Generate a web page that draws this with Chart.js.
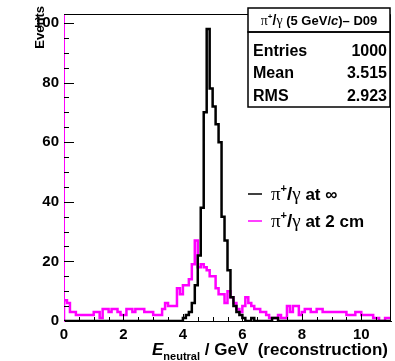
<!DOCTYPE html>
<html><head><meta charset="utf-8">
<script src="https://cdn.jsdelivr.net/npm/chart.js@4.4.1/dist/chart.umd.min.js"></script>
<style>html,body{margin:0;padding:0;background:#fff;}</style>
</head><body>
<canvas id="c" width="395" height="361"></canvas>
<script>
// ---- data ----
const binWidth = 0.1;
const xTickLabels = [0, 2, 4, 6, 8, 10];
const yTickLabels = [0, 20, 40, 60, 80, 100];
const seriesNames = ['at \u221E', 'at 2 cm'];
const countsInfinity = [
  0,0,0,0,0,0,0,0,0,0,
  0,0,0,0,0,0,0,0,0,0,
  0,0,0,0,0,0,0,0,0,0,
  0,0,0,0,0,0,0,0,0,0,
  1,2,3,6,12,22,38,70,98,78,
  72,66,60,35,27,17,8,5,3,2,
  1,0,0,1,0,0,0,0,0,0,
  1,1,0,0,0,0,0,0,0,0,
  0,0,0,0,0,0,0,0,0,0,
  0,0,0,0,0,0,0,0,0,0,
  0,0,0,0,0,0,0,0,0,0
];
const counts2cm = [
  7,6,3,3,2,2,2,2,2,2,
  3,3,1,4,4,3,4,4,3,2,
  2,4,4,3,4,4,4,3,3,3,
  2,2,2,4,6,5,5,5,11,9,
  12,12,14,19,27,18,19,18,17,15,
  15,11,9,9,6,10,8,6,4,3,
  5,8,6,5,4,4,3,3,2,1,
  1,1,2,1,1,5,3,5,5,2,
  3,4,4,3,3,4,4,3,3,3,
  3,3,3,3,3,2,2,2,3,3,
  2,2,2,2,1,1,0,0,1,1
];
const statsLabels = ['Entries', 'Mean', 'RMS'];
const statsValues = ['1000', '3.515', '2.923'];

// ---- build step series ----
function toSteps(counts) {
  const pts = [{x: 0, y: 0}];
  counts.forEach((v, i) => pts.push({x: i * binWidth, y: v}));
  pts.push({x: counts.length * binWidth, y: counts[counts.length - 1]});
  return pts;
}

const SANS = '"Liberation Sans", Arial, sans-serif';
const SERIF = '"Liberation Serif", "Times New Roman", serif';
const MAG = '#ff00ff';

function drawRich(ctx, x, y, segs, align) {
  let total = 0;
  segs.forEach(s => { ctx.font = s.f; s.w = ctx.measureText(s.t).width; total += s.w; });
  let cx = align === 'right' ? x - total : (align === 'center' ? x - total / 2 : x);
  ctx.textAlign = 'left';
  segs.forEach(s => { ctx.font = s.f; ctx.fillStyle = s.c || '#000'; ctx.fillText(s.t, cx, y + (s.dy || 0)); cx += s.w; });
}
function piGamma(size) {
  return [
    {t: '\u03C0', f: size + 'px ' + SERIF},
    {t: '+', f: 'bold ' + Math.round(size * 0.6) + 'px ' + SANS, dy: -size * 0.4},
    {t: '/', f: 'bold ' + size + 'px ' + SANS},
    {t: '\u03B3', f: size + 'px ' + SERIF}
  ];
}

const overlay = {
  id: 'overlay',
  afterDraw(chart) {
    const ctx = chart.ctx;
    const a = chart.chartArea;
    const xs = chart.scales.x, ys = chart.scales.y;
    ctx.save();
    // frame top/right
    ctx.strokeStyle = '#000';
    ctx.lineWidth = 1;
    ctx.beginPath();
    ctx.moveTo(a.left, a.top + 0.5); ctx.lineTo(a.right - 0.5, a.top + 0.5); ctx.lineTo(a.right - 0.5, a.bottom);
    ctx.stroke();
    // inner ticks y
    for (let v = 5; v <= 100; v += 5) {
      const py = Math.round(ys.getPixelForValue(v)) + 0.5;
      const len = (v % 20 === 0) ? 10 : 5;
      ctx.beginPath(); ctx.moveTo(a.left, py); ctx.lineTo(a.left + len, py); ctx.stroke();
    }
    // inner ticks x
    for (let v = 0.5; v < 11; v += 0.5) {
      const px = Math.round(xs.getPixelForValue(v)) + 0.5;
      const len = (Math.abs(v % 2) < 1e-6) ? 7 : 4;
      ctx.beginPath(); ctx.moveTo(px, a.bottom); ctx.lineTo(px, a.bottom - len); ctx.stroke();
    }
    // stats box
    const bx1 = 248, bx2 = a.right - 1, by1 = 8, by2 = 32, by3 = 107;
    ctx.fillStyle = '#fff';
    ctx.fillRect(bx1, by1, bx2 - bx1, by3 - by1);
    ctx.lineWidth = 1.5;
    ctx.strokeStyle = '#000';
    ctx.strokeRect(bx1, by1, bx2 - bx1, by2 - by1);
    ctx.strokeRect(bx1, by2, bx2 - bx1, by3 - by2);
    ctx.textBaseline = 'alphabetic';
    drawRich(ctx, (bx1 + bx2) / 2, 25, piGamma(14).concat([
      {t: ' (5 GeV/', f: 'bold 13px ' + SANS},
      {t: 'c', f: 'italic bold 13px ' + SANS},
      {t: ')\u2013 D09', f: 'bold 13px ' + SANS}
    ]), 'center');
    const rowsY = [56, 78, 101];
    statsLabels.forEach((lab, i) => {
      ctx.font = 'bold 16px ' + SANS;
      ctx.fillStyle = '#000';
      ctx.textAlign = 'left';
      ctx.fillText(lab, bx1 + 5, rowsY[i]);
      ctx.textAlign = 'right';
      ctx.fillText(statsValues[i], bx2 - 3, rowsY[i]);
    });
    // legend
    const legY = [194, 221];
    const legCol = ['#000', MAG];
    seriesNames.forEach((name, i) => {
      ctx.strokeStyle = legCol[i];
      ctx.lineWidth = 1.5;
      ctx.beginPath(); ctx.moveTo(248, legY[i]); ctx.lineTo(262, legY[i]); ctx.stroke();
      const segs = piGamma(19).concat([{t: ' ' + name, f: 'bold 17px ' + SANS}]);
      drawRich(ctx, 271, legY[i] + 6, segs, 'left');
    });
    // x title
    drawRich(ctx, a.right - 3, 355, [
      {t: 'E', f: 'italic bold 17px ' + SANS},
      {t: 'neutral', f: 'bold 11px ' + SANS, dy: 5},
      {t: ' / GeV  (reconstruction)', f: 'bold 17px ' + SANS}
    ], 'right');
    // y title
    ctx.save();
    ctx.translate(44, 6);
    ctx.rotate(-Math.PI / 2);
    ctx.textAlign = 'right';
    ctx.font = 'bold 13px ' + SANS;
    ctx.fillStyle = '#000';
    ctx.fillText('Events', 0, 0);
    ctx.restore();
    ctx.restore();
  }
};

new Chart(document.getElementById('c'), {
  type: 'line',
  data: {
    datasets: [
      {label: seriesNames[0], data: toSteps(countsInfinity), borderColor: '#000', borderWidth: 2.5, stepped: true, pointRadius: 0, fill: false, order: 0},
      {label: seriesNames[1], data: toSteps(counts2cm), borderColor: MAG, borderWidth: 2.5, stepped: true, pointRadius: 0, fill: false, order: 1}
    ]
  },
  options: {
    responsive: false,
    animation: false,
    devicePixelRatio: 1,
    layout: {padding: {top: 9, right: 4, left: 0, bottom: 0}},
    plugins: {legend: {display: false}, tooltip: {enabled: false}},
    scales: {
      x: {
        type: 'linear', min: 0, max: 11,
        afterFit: s => { s.height = 40; },
        afterBuildTicks: s => { s.ticks = xTickLabels.map(v => ({value: v})); },
        ticks: {includeBounds: false, maxRotation: 0, autoSkip: false, padding: 5, color: '#000', font: {family: SANS, size: 15, weight: 'bold'}},
        grid: {drawOnChartArea: false, drawTicks: false},
        border: {display: true, color: '#000', width: 1}
      },
      y: {
        type: 'linear', min: 0, max: 103,
        afterFit: s => { s.width = 64; },
        afterBuildTicks: s => { s.ticks = yTickLabels.map(v => ({value: v})); },
        ticks: {includeBounds: false, autoSkip: false, padding: 5, color: '#000', font: {family: SANS, size: 15, weight: 'bold'}},
        grid: {drawOnChartArea: false, drawTicks: false},
        border: {display: true, color: MAG, width: 1}
      }
    }
  },
  plugins: [overlay]
});
</script>
</body></html>
